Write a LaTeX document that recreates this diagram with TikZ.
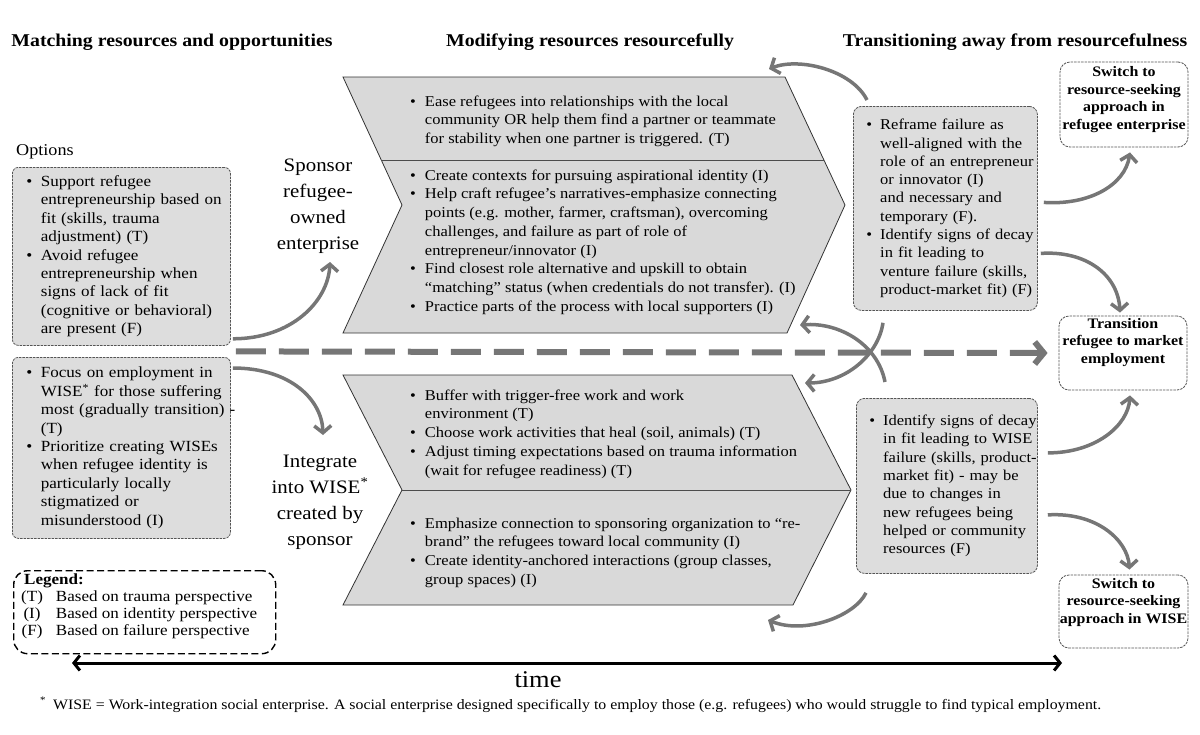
\documentclass[tikz,border=0pt]{standalone}
\usepackage{fontspec}
\setmainfont{Liberation Serif}[FakeStretch=1.1]
\usetikzlibrary{arrows.meta,calc}
\definecolor{boxfill}{RGB}{221,221,221}
\definecolor{chevfill}{RGB}{217,217,217}
\definecolor{arrgray}{RGB}{118,118,118}
\definecolor{edgegray}{RGB}{85,85,85}
\newcommand{\fsz}[2]{\fontsize{#1}{#2}\selectfont}
\newcommand{\bl}{\textbullet}
\newcommand{\blist}[2]{\begin{tabular}{@{}l@{\hspace{#1}}l@{}}#2\end{tabular}}
\begin{document}
\begin{tikzpicture}[x=1pt,y=-1pt,
  hdr/.style={font=\fsz{18}{22}\bfseries, inner sep=0pt},
  optbox/.style={draw=edgegray, line width=0.8pt, dash pattern=on 2.5pt off 1pt, fill=boxfill, rounded corners=6pt, anchor=north west, inner ysep=0pt, inner xsep=14pt, text width=190pt, align=left, font=\fsz{15.5}{18.4}},
  rbox/.style={draw=edgegray, line width=0.8pt, dash pattern=on 2.5pt off 1pt, fill=boxfill, rounded corners=8pt, anchor=north west, inner ysep=0pt, inner xsep=13pt, align=left, font=\fsz{15}{18.3}},
  chevtext/.style={anchor=north west, inner sep=0pt, font=\fsz{15}{18.7}},
  chev/.style={fill=chevfill, draw=black!80, line width=0.8pt},
  chevline/.style={draw=black!70, line width=0.8pt},
  outbox/.style={draw=edgegray, line width=0.8pt, dash pattern=on 2.5pt off 1pt, fill=white, rounded corners=10pt},
  outtext/.style={font=\fsz{14.5}{17.6}\bfseries, align=center, inner sep=0pt},
  lbl/.style={font=\fsz{19}{26}, align=center, inner sep=0pt},
  garrow/.style={draw=arrgray, line width=3.5pt, -{Straight Barb[length=7pt,width=17pt]}},
  dasharrow/.style={draw=arrgray, line width=6pt, dash pattern=on 30pt off 13pt, -{Straight Barb[length=9pt,width=22pt]}},
  timeline/.style={draw=black, line width=3pt, {Straight Barb[length=6pt,width=15pt]}-{Straight Barb[length=6pt,width=15pt]}},
  legbox/.style={draw=black, line width=1.4pt, dash pattern=on 7pt off 3.5pt, rounded corners=14pt, anchor=north west, inner sep=0pt}
]
\useasboundingbox (0,0) rectangle (1200,734);

% headers
\node[hdr] (h1) at (172,42) {Matching resources and opportunities};
\node[hdr] (h2) at (590,42) {Modifying resources resourcefully};
\node[hdr] (h3) at (1015,42) {Transitioning away from resourcefulness};

\node[anchor=west, inner sep=0pt, font=\fsz{16.5}{20}] (opt) at (16,152) {Options};

% option boxes
\node[optbox, minimum height=178pt] (o1) at (12,167) {\blist{8.5pt}{%
\bl & Support refugee\\
 & entrepreneurship based on\\
 & fit (skills, trauma\\
 & adjustment) (T)\\
\bl & Avoid refugee\\
 & entrepreneurship when\\
 & signs of lack of fit\\
 & (cognitive or behavioral)\\
 & are present (F)}};
\node[optbox, minimum height=181pt] (o2) at (12,357) {\blist{8.5pt}{%
\bl & Focus on employment in\\
 & WISE\textsuperscript{*} for those suffering\\
 & most (gradually transition) -\\
 & (T)\\
\bl & Prioritize creating WISEs\\
 & when refugee identity is\\
 & particularly locally\\
 & stigmatized or\\
 & misunderstood (I)}};

% labels
\node[lbl] (sp) at (318,206) {Sponsor\\refugee-\\owned\\enterprise};
\node[lbl] (ig) at (320,502) {Integrate\\into WISE\textsuperscript{*}\\created by\\sponsor};

% chevrons
\path[chev] (343,77) -- (785,77) -- (845,205) -- (787,333) -- (343,333) -- (402,205) -- cycle;
\draw[chevline] (381,160) -- (824,160);
\path[chev] (343,375) -- (792,375) -- (851,490) -- (793,605) -- (343,605) -- (402,490) -- cycle;
\draw[chevline] (402,490) -- (851,490);

\node[chevtext] (m1) at (410,93) {\blist{9pt}{%
\bl & Ease refugees into relationships with the local\\
 & community OR help them find a partner or teammate\\
 & for stability when one partner is triggered. (T)}};
\node[chevtext] (m2) at (410,167) {\blist{9pt}{%
\bl & Create contexts for pursuing aspirational identity (I)\\
\bl & Help craft refugee’s narratives-emphasize connecting\\
 & points (e.g. mother, farmer, craftsman), overcoming\\
 & challenges, and failure as part of role of\\
 & entrepreneur/innovator (I)\\
\bl & Find closest role alternative and upskill to obtain\\
 & “matching” status (when credentials do not transfer). (I)\\
\bl & Practice parts of the process with local supporters (I)}};
\node[chevtext] (m3) at (410,387) {\blist{9pt}{%
\bl & Buffer with trigger-free work and work\\
 & environment (T)\\
\bl & Choose work activities that heal (soil, animals) (T)\\
\bl & Adjust timing expectations based on trauma information\\
 & (wait for refugee readiness) (T)}};
\node[chevtext] (m4) at (410,515) {\blist{9pt}{%
\bl & Emphasize connection to sponsoring organization to “re-\\
 & brand” the refugees toward local community (I)\\
\bl & Create identity-anchored interactions (group classes,\\
 & group spaces) (I)}};

% right boxes
\node[rbox, text width=158pt, minimum height=204pt] (r1) at (853,106) {\blist{8pt}{%
\bl & Reframe failure as\\
 & well-aligned with the\\
 & role of an entrepreneur\\
 & or innovator (I)\\
 & and necessary and\\
 & temporary (F).\\
\bl & Identify signs of decay\\
 & in fit leading to\\
 & venture failure (skills,\\
 & product-market fit) (F)}};
\node[rbox, text width=155pt, minimum height=175pt] (r2) at (856,398) {\blist{8pt}{%
\bl & Identify signs of decay\\
 & in fit leading to WISE\\
 & failure (skills, product-\\
 & market fit) - may be\\
 & due to changes in\\
 & new refugees being\\
 & helped or community\\
 & resources (F)}};

% outcome boxes
\node[outbox, minimum width=128pt, minimum height=85pt] (swA) at (1124,104.5) {};
\node[outtext] (swAt) at (1124,99.5) {Switch to\\resource-seeking\\approach in\\refugee enterprise};
\node[outbox, minimum width=128pt, minimum height=74pt] (tr) at (1123,353) {};
\node[outtext] (trt) at (1123,342.5) {Transition\\refugee to market\\employment};
\node[outbox, minimum width=129pt, minimum height=73pt] (swC) at (1123.5,611.5) {};
\node[outtext] (swCt) at (1123.5,602.5) {Switch to\\resource-seeking\\approach in WISE};

% arrow end coordinates
\coordinate (a1e) at (330,262);
\coordinate (a2e) at (323,435);
\coordinate (c1e) at (769,69);
\coordinate (c2e) at (800,325);
\coordinate (c4e) at (805,383);
\coordinate (c5e) at (768,620);

% arrows
\draw[garrow] ($(o1.south east)+(2,-7)$) .. controls +(58,0) and +(-2,40) .. (a1e);
\draw[garrow] ($(o2.north east)+(2,11)$) .. controls +(58,0) and +(-1,-35) .. (a2e);
\draw[dasharrow] ($(o1.south east)!0.5!(o2.north east)+(5,0)$) -- ($(tr.west)+(-11,0)$);
\draw[garrow] ($(r1.north west)+(14,-6)$) .. controls +(-15,-30) and +(30,-12) .. (c1e);
\draw[garrow] ($(r1.south west)+(30,12)$) .. controls +(-5,33) and +(40,0) .. (c4e);
\draw[garrow] ($(r2.north west)+(29,-16)$) .. controls +(-7,-37) and +(40,-3) .. (c2e);
\draw[garrow] ($(r2.south west)+(10,19)$) .. controls +(-11,23) and +(37,15) .. (c5e);
\draw[garrow] ($(r1.east)+(6,-6)$) .. controls +(45,3) and +(-5,33) .. ($(swA.south)+(6,5)$);
\draw[garrow] ($(r1.east)+(3,45)$) .. controls +(45,-3) and +(-2,-38) .. ($(tr.north)+(-3,-3)$);
\draw[garrow] ($(r2.east)+(10,-33)$) .. controls +(48,0) and +(-2,30) .. ($(tr.south)+(7,5)$);
\draw[garrow] ($(r2.east)+(10,29)$) .. controls +(48,-3) and +(-2,-30) .. ($(swC.north)+(6,-5)$);

% legend
\node[legbox, minimum width=262pt, minimum height=83pt] (legbox) at (13,570) {};
\node[anchor=north west, inner sep=0pt, font=\fsz{15.5}{17}] (leg) at (21,572) {\begin{tabular}{@{}c@{\hspace{13pt}}l@{}}
\multicolumn{2}{@{\hspace{3pt}}l}{\textbf{Legend:}}\\
(T) & Based on trauma perspective\\
(I) & Based on identity perspective\\
(F) & Based on failure perspective
\end{tabular}};

% time axis
\coordinate (tL) at (72,663);
\coordinate (tR) at (1062,663);
\draw[timeline] (tL) -- (tR);
\node[font=\fsz{24}{28}, inner sep=0pt] (time) at (538,680) {time};

% footnote
\node[anchor=base west, inner sep=0pt, font=\fsz{14.4}{17}] (fn) at (40,709) {\textsuperscript{*}\hspace{7pt}WISE = Work-integration social enterprise. A social enterprise designed specifically to employ those (e.g. refugees) who would struggle to find typical employment.};
\end{tikzpicture}
\end{document}
